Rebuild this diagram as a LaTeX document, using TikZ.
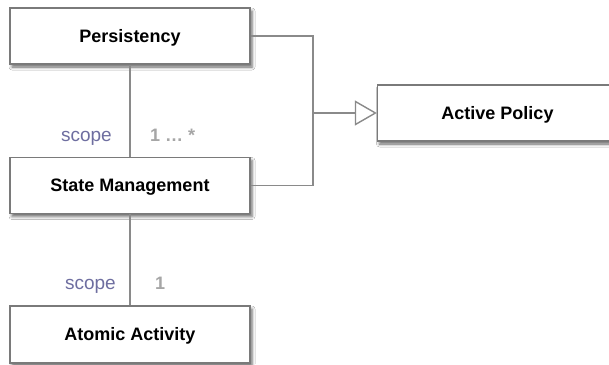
\documentclass[tikz,border=0pt]{standalone}
\usepackage{fontspec}
\setmainfont{Liberation Sans}
\usetikzlibrary{arrows.meta,shadows.blur}
\definecolor{boxline}{HTML}{7A7A7A}
\definecolor{connc}{HTML}{8A8A8A}
\definecolor{rolec}{HTML}{6E6EA0}
\definecolor{multc}{HTML}{A6A6A6}
\begin{document}
\begin{tikzpicture}[x=1pt,y=-1pt,
  cls/.style={draw=boxline, line width=1.4pt, fill=white, minimum width=240pt,
    minimum height=56pt, inner sep=0pt, font=\fontsize{18}{20}\selectfont\bfseries,
    text height=12.9pt, text depth=0pt,
    blur shadow={shadow xshift=2pt, shadow yshift=-3pt, shadow blur radius=3pt, shadow opacity=60}},
  connline/.style={draw=connc, line width=1.4pt},
  role/.style={font=\fontsize{19}{22}\selectfont, text=rolec, inner sep=0pt},
  mult/.style={font=\fontsize{18}{22}\selectfont\bfseries, text=multc, inner sep=0pt}]
\clip (0,0) rectangle (609,364);
\fill[white] (0,0) rectangle (609,364);
\node[cls] (P) at (130,36) {Persistency};
\node[cls] (S) at (130,185.5) {State Management};
\node[cls, minimum height=57pt] (AA) at (130,334.5) {Atomic Activity};
\node[cls] (AP) at (497.5,113) {Active Policy};
\coordinate (J) at (313,113);
\draw[connline] (P.east) -| (J);
\draw[connline] (S.east) -| (J);
\draw[connline, -{Triangle[open,length=22pt,width=25pt,fill=white]}] (J) -- (AP.west);
\draw[connline] (P.south) -- (S.north);
\draw[connline] (S.south) -- (AA.north);
\node[role, anchor=base east] (r1) at (112,141) {scope};
\node[mult, anchor=base west] (m1) at (150,141) {1 … *};
\node[role, anchor=base east] (r2) at (116,289) {scope};
\node[mult, anchor=base west] (m2) at (155,289) {1};
\end{tikzpicture}
\end{document}
